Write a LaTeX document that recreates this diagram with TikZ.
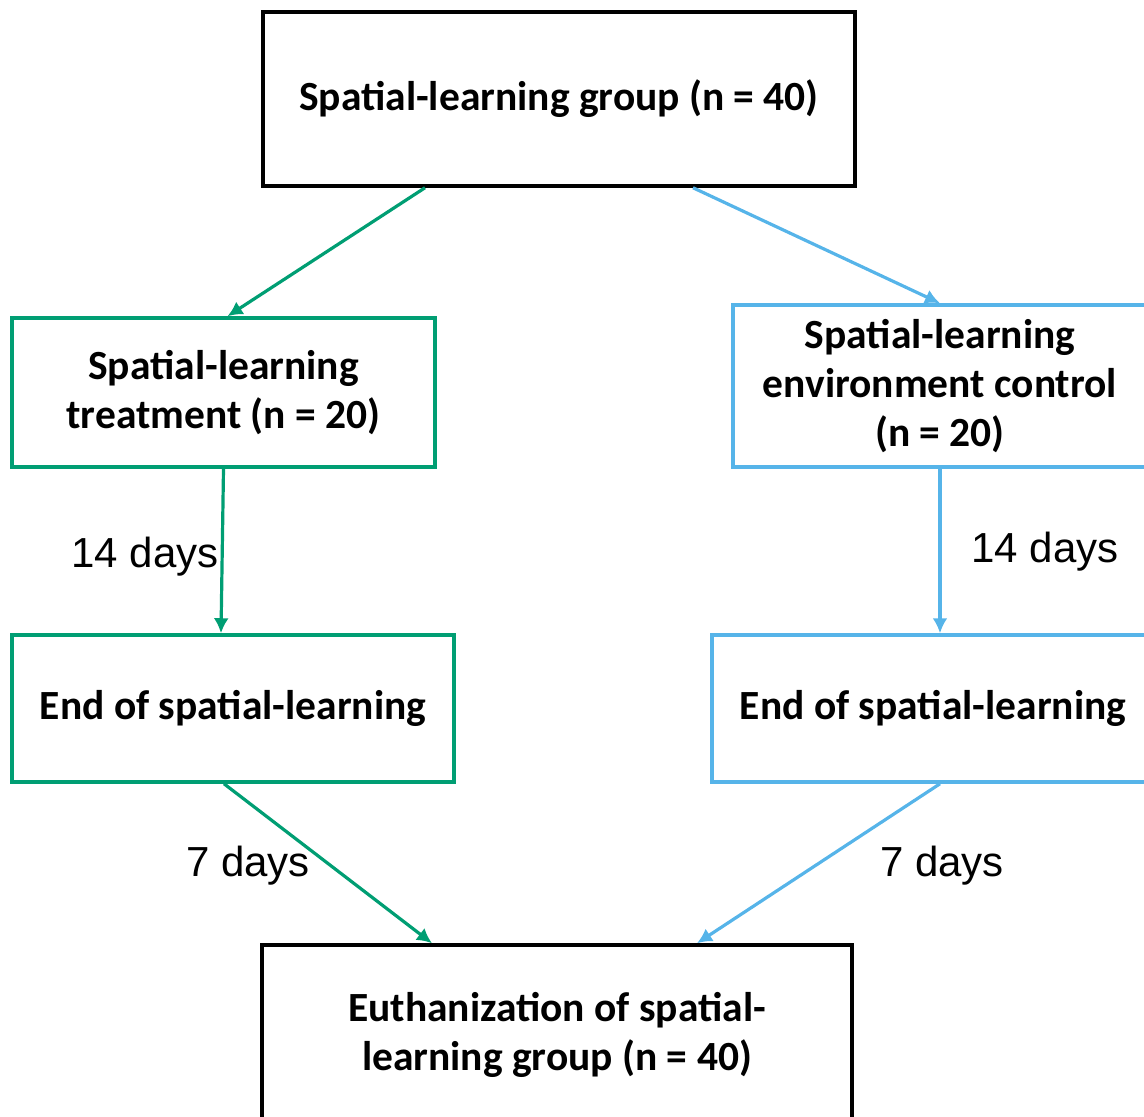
\documentclass[tikz,border=0pt]{standalone}
\usepackage{fontspec}
\setmainfont{Carlito}
\newfontfamily\arialf{Liberation Sans}
\usetikzlibrary{arrows.meta,calc}
\definecolor{okgreen}{RGB}{0,158,115}
\definecolor{okblue}{RGB}{86,180,233}
\begin{document}
\begin{tikzpicture}[x=1pt,y=-1pt,
  box/.style={draw,line width=3.5pt,rectangle,inner sep=0pt,align=center,
    font=\fontsize{41.5}{49}\selectfont\bfseries},
  conn/.style={line width=3.2pt,-{Latex[length=15pt,width=15pt]}},
  lab/.style={font=\fontsize{42}{48}\selectfont\arialf,inner sep=0pt}]
\useasboundingbox (0,0) rectangle (1144,1117);
\clip (0,0) rectangle (1144,1117);
\node[box,black,minimum width=592pt,minimum height=174pt] (top) at (559,99) {Spatial-learning group (n = 40)};
\node[box,draw=okgreen,minimum width=423pt,minimum height=149pt] (lt) at (223.5,392.5) {Spatial-learning\\treatment (n = 20)};
\node[box,draw=okblue,minimum width=414pt,minimum height=162pt] (rt) at (940,386) {Spatial-learning\\environment control\\(n = 20)};
\node[box,draw=okgreen,minimum width=442pt,minimum height=147pt] (lm) at (233,708.5) {End of spatial-learning};
\node[box,draw=okblue,minimum width=442pt,minimum height=147pt] (rm) at (933,708.5) {End of spatial-learning};
\node[box,black,minimum width=590pt,minimum height=180pt] (bot) at (557,1035) {Euthanization of spatial-\\learning group (n = 40)};
\draw[conn,okgreen] ([xshift=-134pt]top.south) -- ([xshift=4pt]lt.north);
\draw[conn,okblue] ([xshift=134pt]top.south) -- (rt.north);
\draw[conn,okgreen] (lt.south) -- ([xshift=-12pt]lm.north);
\draw[conn,okblue] (rt.south) -- ([xshift=7pt]rm.north);
\draw[conn,okgreen] ([xshift=-9pt]lm.south) -- ([xshift=-125pt]bot.north);
\draw[conn,okblue] ([xshift=7pt]rm.south) -- ([xshift=140pt]bot.north);
\node[lab] (d1) at (145,557) {14 days};
\node[lab] (d2) at (1045,552) {14 days};
\node[lab] (d3) at (248,866) {7 days};
\node[lab] (d4) at (942,866) {7 days};
\end{tikzpicture}
\end{document}
